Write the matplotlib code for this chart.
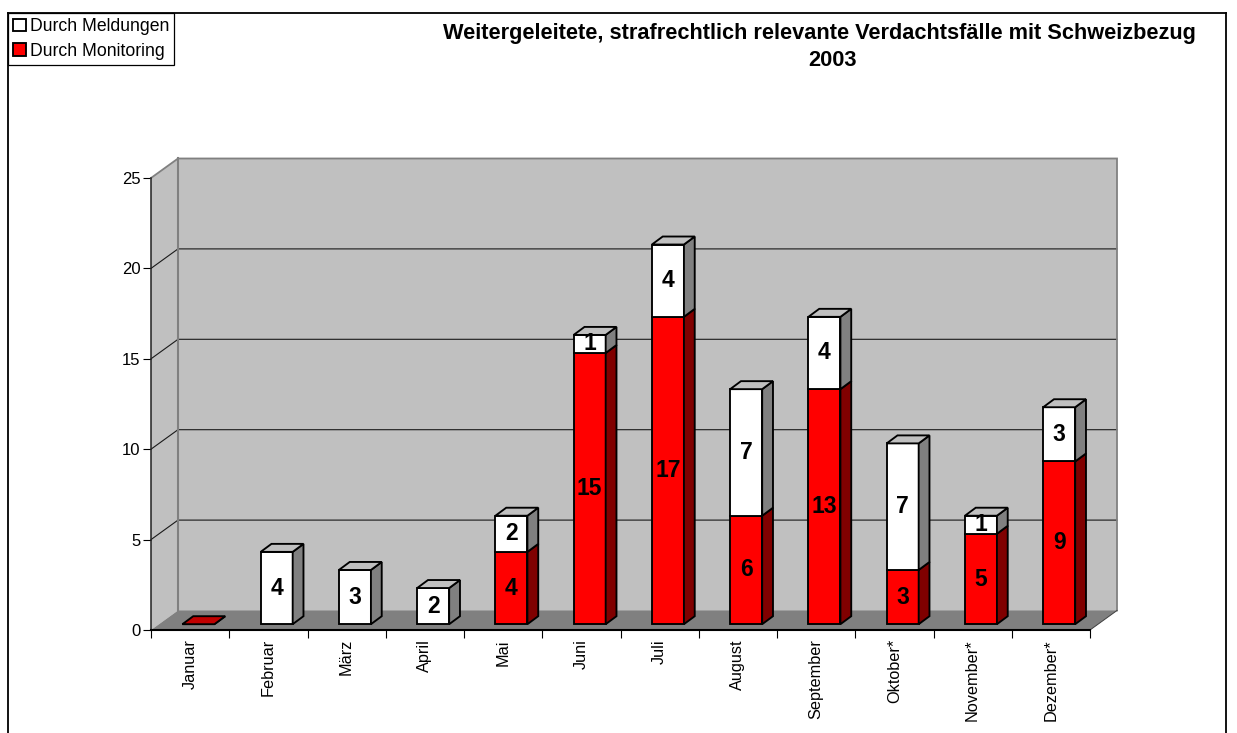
import matplotlib
matplotlib.use('Agg')
import matplotlib.pyplot as plt
from matplotlib.lines import Line2D
from matplotlib.patches import Patch

plt.rcParams['font.family'] = ['Liberation Sans', 'DejaVu Sans']

monate = ['Januar', 'Februar', 'März', 'April', 'Mai', 'Juni', 'Juli', 'August',
          'September', 'Oktober*', 'November*', 'Dezember*']
monitoring = [0, 0, 0, 0, 4, 15, 17, 6, 13, 3, 5, 9]
meldungen = [0, 4, 3, 2, 2, 1, 4, 7, 4, 7, 1, 3]
y_ticks = [0, 5, 10, 15, 20, 25]
titel1 = 'Weitergeleitete, strafrechtlich relevante Verdachtsfälle mit Schweizbezug'
titel2 = '2003'

W, H = 1237, 733
fig = plt.figure(figsize=(W / 100, H / 100), dpi=100, facecolor='white')
ax = fig.add_axes([151 / W, (H - 630) / H, 939 / W, 452 / H])
ax.set_xlim(0, 12)
ax.set_ylim(0, 25)
ax.patch.set_visible(False)

# pixels -> data units
px_x = 12 / 939
px_y = 25 / 452
wall_dx, wall_dy = 27 * px_x, 19.5 * px_y
bar_w = 32 * px_x
bar_off_x, bar_off_y = 8.3 * px_x - bar_w / 2 + 0.5, 5.8 * px_y
side_dx, side_dy = 10.8 * px_x, 8 * px_y

# walls and floor
ax.fill([0, wall_dx, wall_dx, 0], [0, wall_dy, 25 + wall_dy, 25], color='#c0c0c0', lw=0, zorder=1, clip_on=False)
ax.fill([wall_dx, 12 + wall_dx, 12 + wall_dx, wall_dx], [wall_dy, wall_dy, 25 + wall_dy, 25 + wall_dy],
        color='#c0c0c0', lw=0, zorder=1, clip_on=False)
ax.fill([0, 12, 12 + wall_dx, wall_dx], [0, 0, wall_dy, wall_dy], color='#808080', lw=0, zorder=2, clip_on=False)

for v in y_ticks[1:-1]:
    ax.plot([0, wall_dx, 12 + wall_dx], [v, v + wall_dy, v + wall_dy], color='#1a1a1a', lw=0.8, zorder=3,
            clip_on=False)

grau = dict(color='#808080', zorder=3, clip_on=False, solid_joinstyle='miter')
ax.plot([wall_dx, wall_dx], [wall_dy, 25 + wall_dy], lw=1.5, **grau)
ax.plot([0, wall_dx, 12 + wall_dx, 12 + wall_dx], [25, 25 + wall_dy, 25 + wall_dy, wall_dy], lw=1.3, **grau)
ax.plot([12, 12 + wall_dx], [0, wall_dy], color='#404040', lw=0.7, zorder=3, clip_on=False)


def saeule(i, lo, hi, front, side, top, z):
    x0 = i + bar_off_x
    x1 = x0 + bar_w
    y0, y1 = lo + bar_off_y, hi + bar_off_y
    kw = dict(edgecolor='black', linewidth=1.35, joinstyle='miter', clip_on=False, zorder=z)
    ax.bar(x0, hi - lo, width=bar_w, bottom=y0, align='edge', color=front, **kw)
    ax.fill([x1, x1 + side_dx, x1 + side_dx, x1], [y0, y0 + side_dy, y1 + side_dy, y1], facecolor=side, **kw)
    if top is not None:
        ax.fill([x0, x0 + side_dx, x1 + side_dx, x1], [y1, y1 + side_dy, y1 + side_dy, y1], facecolor=top, **kw)


for i, (rot, weiss) in enumerate(zip(monitoring, meldungen)):
    z = 5 + i
    gesamt = rot + weiss
    if gesamt == 0:
        saeule(i, 0, 0, '#ff0000', '#800000', '#c00000', z)
        continue
    if rot:
        saeule(i, 0, rot, '#ff0000', '#800000', None if weiss else '#c00000', z)
    if weiss:
        saeule(i, rot, gesamt, '#ffffff', '#808080', '#c0c0c0', z)
    xm = i + bar_off_x + bar_w / 2
    if rot:
        ax.text(xm, rot / 2 + bar_off_y, str(rot), ha='center', va='center', fontsize=16.5,
                fontweight='bold', color='black', zorder=30)
    if weiss:
        ax.text(xm, rot + weiss / 2 + bar_off_y, str(weiss), ha='center', va='center', fontsize=16.5,
                fontweight='bold', color='black', zorder=30)

# axes
for s in ['top', 'right']:
    ax.spines[s].set_visible(False)
ax.spines['left'].set_linewidth(1.1)
ax.spines['bottom'].set_linewidth(1.5)
ax.spines['left'].set_color('#222222')
ax.spines['left'].set_zorder(4)
ax.spines['bottom'].set_zorder(4)
ax.set_yticks(y_ticks)
ax.tick_params(axis='y', length=6, width=0.8, pad=1.5, labelsize=12)
ax.set_xticks(range(13))
ax.set_xticklabels([])
ax.set_xticks([i + 0.5 for i in range(12)], labels=monate, minor=True)
ax.tick_params(axis='x', which='major', length=6, width=0.8)
ax.tick_params(axis='x', which='minor', length=0, pad=6.5, labelsize=11.7, labelrotation=90)

# outer frame, open at the bottom
for xs, ys in [([8, 8], [H, 13]), ([8, 1226], [13, 13]), ([1226, 1226], [13, H])]:
    fig.add_artist(Line2D([x / W for x in xs], [1 - y / H for y in ys], color='black', lw=1.3,
                          transform=fig.transFigure))

fig.text(819 / W, 1 - 33.5 / H, titel1, ha='center', va='center', fontsize=15.7, fontweight='bold')
fig.text(832.5 / W, 1 - 60.5 / H, titel2, ha='center', va='center', fontsize=15.7, fontweight='bold')

handles = [Patch(facecolor='white', edgecolor='black', linewidth=1.35),
           Patch(facecolor='#ff0000', edgecolor='black', linewidth=1.35)]
leg = fig.legend(handles, ['Durch Meldungen', 'Durch Monitoring'], loc='upper left',
                 bbox_to_anchor=(8 / W, 1 - 13 / H), bbox_transform=fig.transFigure,
                 fontsize=12.7, fancybox=False, edgecolor='black', framealpha=1, borderpad=0.3,
                 handlelength=0.72, handleheight=0.72, handletextpad=0.2, labelspacing=0.42,
                 borderaxespad=0)
leg.get_frame().set_linewidth(0.9)

fig.savefig('out.png', dpi=100)
